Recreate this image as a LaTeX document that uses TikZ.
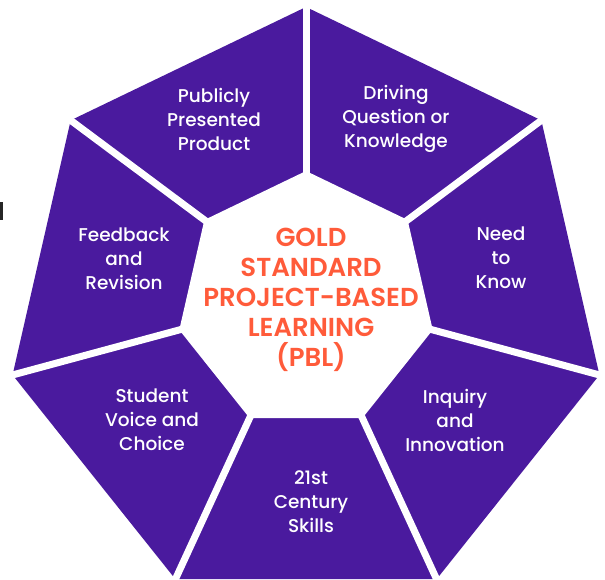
\documentclass[tikz,border=0pt]{standalone}
\usepackage{fontspec}
\setmainfont{Poppins}
\newfontfamily\headfont{Poppins SemiBold}
\newfontfamily\segfont{Poppins Medium}
\usetikzlibrary{calc}
\definecolor{purp}{HTML}{4A1A9E}
\definecolor{coral}{HTML}{FF5B3A}
\tikzset{
  seglabel/.style={text=white, align=center, font=\segfont\fontsize{18.5}{24}\selectfont, inner sep=0pt},
  headlabel/.style={text=coral, align=center, font=\headfont\fontsize{26}{30}\selectfont, inner sep=0pt},
  gapline/.style={white, line width=7pt, line cap=rect}
}
\begin{document}
\begin{tikzpicture}[x=1pt,y=1pt]
\useasboundingbox (0,0) rectangle (605,579);
\clip (0,0) rectangle (605,579);
\foreach \k in {0,...,6}{
  \coordinate (o\k) at ($(306,271)+(90+\k*51.42857:301)$);
  \coordinate (i\k) at ($(306,278)+(90+\k*51.42857:130)$);
}
\fill[purp] (o0) -- (o1) -- (o2) -- (o3) -- (o4) -- (o5) -- (o6) -- cycle;
\fill[white] (i0) -- (i1) -- (i2) -- (i3) -- (i4) -- (i5) -- (i6) -- cycle;
\foreach \k in {0,...,6}{
  \draw[gapline] (i\k) -- (o\k);
}
\fill[black!85] (0,359) rectangle (3,377);
\node[seglabel] (pub) at (214,460) {Publicly\\Presented\\Product};
\node[seglabel] (drv) at (396,460) {Driving\\Question or\\Knowledge};
\node[seglabel] (need) at (501,321) {Need\\to\\Know};
\node[seglabel] (feed) at (124,320) {Feedback\\and\\Revision};
\node[seglabel] (stud) at (152,159) {Student\\Voice and\\Choice};
\node[seglabel] (inq) at (455,159) {Inquiry\\and\\Innovation};
\node[seglabel] (cent) at (311,77) {21st\\Century\\Skills};
\node[headlabel] (head) at (311,279) {GOLD\\STANDARD\\PROJECT-BASED\\LEARNING\\(PBL)};
\end{tikzpicture}
\end{document}
